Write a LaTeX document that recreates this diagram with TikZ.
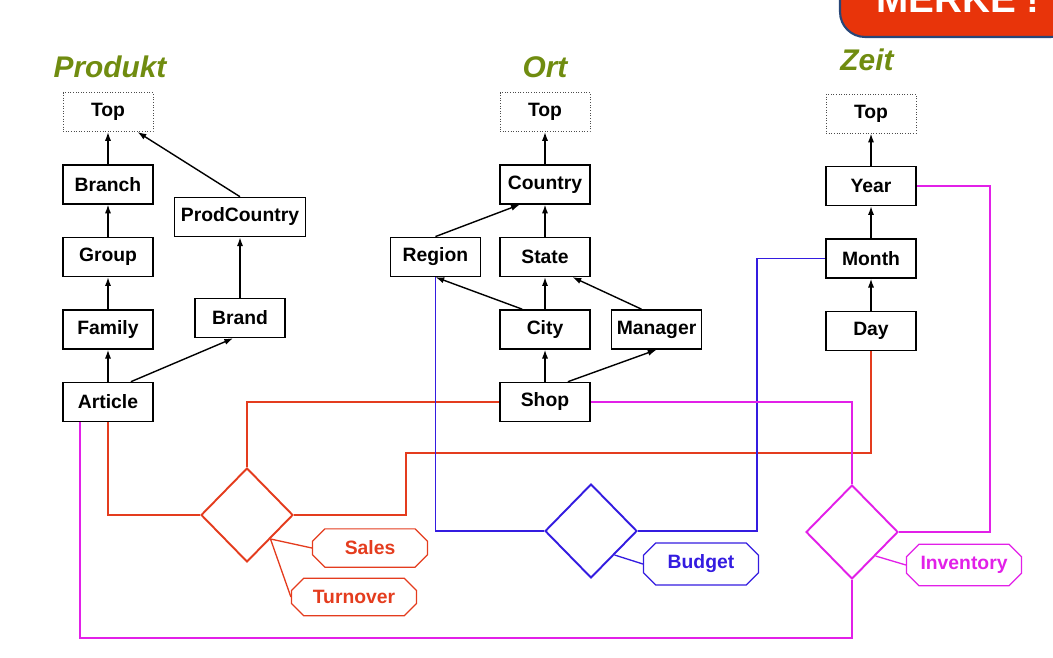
\documentclass[tikz,border=0pt]{standalone}
\usepackage{fontspec}
\setmainfont{Liberation Sans}
\usetikzlibrary{shapes.geometric,shapes.misc,arrows.meta,positioning,calc}

\definecolor{salesred}{RGB}{228,60,30}
\definecolor{budgetblue}{RGB}{52,28,224}
\definecolor{invmagenta}{RGB}{226,32,232}
\definecolor{dimgreen}{RGB}{112,140,16}
\definecolor{merkered}{RGB}{232,52,10}
\definecolor{merkeblue}{RGB}{40,70,120}

\begin{document}
\begin{tikzpicture}[
    x=0.02cm, y=0.02cm,
    lvl/.style={draw, line width=0.9pt, minimum width=1.8cm, minimum height=0.78cm, inner sep=1pt, font=\fontsize{11}{13}\selectfont\bfseries},
    topbox/.style={lvl, draw=black!70, line width=0.5pt, densely dotted},
    dimtitle/.style={font=\fontsize{17}{20}\selectfont\bfseries\itshape, text=dimgreen},
    rollup/.style={-{Latex[length=5pt,width=3.5pt]}, line width=0.8pt},
    fact/.style={diamond, draw, line width=1.1pt, minimum width=1.84cm, minimum height=1.88cm, inner sep=0pt},
    measure/.style={chamfered rectangle, draw, line width=0.7pt, minimum width=2.3cm, minimum height=0.72cm, font=\fontsize{11}{13}\selectfont\bfseries},
    link/.style={line width=0.75pt},
    node distance=0.64cm,
]
\useasboundingbox (0,0) rectangle (1053,-658);

\node[fill=merkered, draw=merkeblue, line width=1.2pt, rounded corners=0.5cm, minimum width=4.72cm, minimum height=1.5cm, text=white, font=\fontsize{22}{26}\selectfont\bfseries] (merke) at (958,0.5) {MERKE !};

\node[dimtitle] (produkt) at (110,-67) {Produkt};
\node[dimtitle] (ort) at (545,-67) {Ort};
\node[dimtitle] (zeit) at (867,-60) {Zeit};

% Produkt
\node[lvl] (article) at (108,-402) {Article};
\node[lvl, above=of article] (family) {Family};
\node[lvl, above=of family] (group) {Group};
\node[lvl, above=of group] (branch) {Branch};
\node[topbox, above=of branch] (ptop) {Top};
\node[lvl] (brand) at (240,-318) {Brand};
\node[lvl, minimum width=2.62cm] (prodcountry) at (240,-217) {ProdCountry};

% Ort
\node[lvl] (shop) at (545,-402) {Shop};
\node[lvl, above=of shop] (city) {City};
\node[lvl, above=of city] (state) {State};
\node[lvl, above=of state] (country) {Country};
\node[topbox, above=of country] (otop) {Top};
\node[lvl, left=0.36cm of state] (region) {Region};
\node[lvl, right=0.4cm of city] (manager) {Manager};

% Zeit
\node[lvl] (day) at (871,-331) {Day};
\node[lvl, above=of day] (month) {Month};
\node[lvl, above=of month] (year) {Year};
\node[topbox, above=of year] (ztop) {Top};

% facts and measures
\node[fact, salesred] (salesfact) at (247,-515) {};
\node[fact, budgetblue] (budgetfact) at (591,-531) {};
\node[fact, invmagenta] (invfact) at (852,-532) {};
\node[measure, salesred] (msales) at (370,-548) {Sales};
\node[measure, salesred, minimum width=2.5cm] (mturnover) at (354,-597) {Turnover};
\node[measure, budgetblue] (mbudget) at (701,-564) {Budget};
\node[measure, invmagenta] (minventory) at (964,-565) {Inventory};

\draw[rollup] (article) -- (family);
\draw[rollup] (family) -- (group);
\draw[rollup] (group) -- (branch);
\draw[rollup] (branch) -- (ptop);
\draw[rollup] (brand) -- (prodcountry);
\draw[rollup] (prodcountry.north) -- ($(ptop.south)!0.65!(ptop.south east)$);
\draw[rollup] ($(article.north)!0.5!(article.north east)$) -- ($(brand.south)!0.15!(brand.south west)$);

\draw[rollup] (shop) -- (city);
\draw[rollup] (city) -- (state);
\draw[rollup] (state) -- (country);
\draw[rollup] (country) -- (otop);
\draw[rollup] (region.north) -- ($(country.south)!0.55!(country.south west)$);
\draw[rollup] ($(city.north)!0.5!(city.north west)$) -- (region.south);
\draw[rollup] ($(manager.north)!0.33!(manager.north west)$) -- ($(state.south)!0.6!(state.south east)$);
\draw[rollup] ($(shop.north)!0.5!(shop.north east)$) -- (manager.south);

\draw[rollup] (day) -- (month);
\draw[rollup] (month) -- (year);
\draw[rollup] (year) -- (ztop);

% Sales
\coordinate (sbend) at (406,-453);
\draw[link, salesred] (article.south) |- (salesfact.west);
\draw[link, salesred] (salesfact.north) |- (shop.west);
\draw[link, salesred] (salesfact.east) -| (sbend) -| (day.south);
\draw[link, salesred] (salesfact.south east) -- (msales.west);
\draw[link, salesred] (salesfact.south east) -- (mturnover.west);

% Budget
\coordinate (bbend) at (757,-531);
\draw[link, budgetblue] (region.south) |- (budgetfact.west);
\draw[link, budgetblue] (budgetfact.east) -- (bbend) |- (month.west);
\draw[link, budgetblue] (budgetfact.south east) -- (mbudget.west);

% Inventory
\coordinate (iright) at (990,-532);
\coordinate (ibottom) at (80,-638);
\draw[link, invmagenta] (shop.east) -| (invfact.north);
\draw[link, invmagenta] (invfact.east) -- (iright) |- (year.east);
\draw[link, invmagenta] (invfact.south) |- (ibottom) -- (ibottom |- article.south);
\draw[link, invmagenta] (invfact.south east) -- (minventory.west);
\end{tikzpicture}
\end{document}
